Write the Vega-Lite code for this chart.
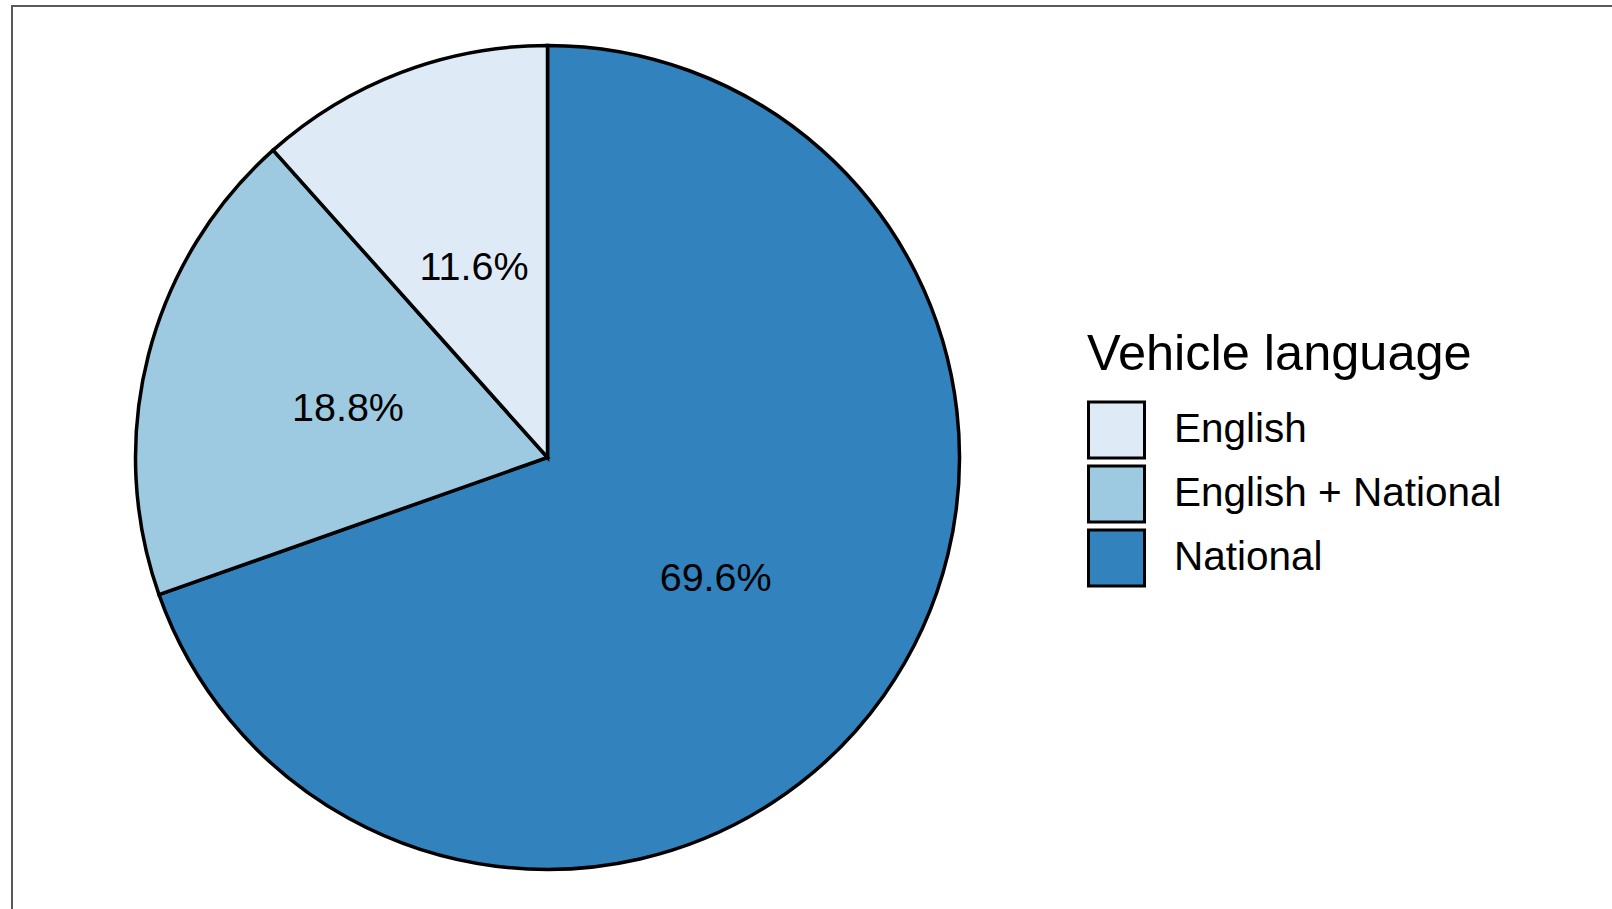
{
  "$schema": "https://vega.github.io/schema/vega-lite/v6.json",
  "width": 1610,
  "height": 913,
  "autosize": {"type": "none"},
  "padding": {"left": 12, "top": 6, "right": -10, "bottom": -10},
  "background": "white",
  "view": {"stroke": "#595959", "strokeWidth": 2},
  "config": {
    "view": {"stroke": "#595959", "strokeWidth": 2},
    "font": "Liberation Sans"
  },
  "data": {
    "values": [
      {"lang": "National", "pct": 69.6, "ord": 1, "label": "69.6%"},
      {"lang": "English + National", "pct": 18.8, "ord": 2, "label": "18.8%"},
      {"lang": "English", "pct": 11.6, "ord": 3, "label": "11.6%"}
    ]
  },
  "layer": [
    {
      "mark": {"type": "point", "opacity": 0},
      "encoding": {"x": {"field": "pct", "type": "quantitative", "axis": null}}
    },
    {
      "mark": {"type": "arc", "outerRadius": 412, "x": 535.5, "y": 451.5, "stroke": "black", "strokeWidth": 3.5},
      "encoding": {
        "theta": {"field": "pct", "type": "quantitative", "stack": true},
        "order": {"field": "ord", "type": "quantitative", "sort": "ascending"},
        "color": {
          "field": "lang",
          "type": "nominal",
          "scale": {"domain": ["English", "English + National", "National"], "range": ["#deebf7", "#9ecae1", "#3182bd"]},
          "legend": {
            "title": "Vehicle language",
            "orient": "none",
            "legendX": 1075,
            "legendY": 324,
            "titleFontSize": 50.5,
            "titleFontWeight": "normal",
            "titleColor": "black",
            "titleFont": "Liberation Sans",
            "titleLimit": 800,
            "titlePadding": 20,
            "labelFontSize": 40.5,
            "labelColor": "black",
            "labelFont": "Liberation Sans",
            "labelLimit": 800,
            "labelOffset": 28,
            "symbolType": "square",
            "symbolSize": 3136,
            "symbolStrokeColor": "black",
            "symbolStrokeWidth": 3,
            "symbolOpacity": 1,
            "rowPadding": -12
          }
        }
      }
    },
    {
      "mark": {"type": "text", "radius": 206, "x": 535.5, "y": 451.5, "dy": 3, "fontSize": 39.5, "font": "Liberation Sans", "color": "black"},
      "encoding": {
        "theta": {"field": "pct", "type": "quantitative", "stack": true},
        "order": {"field": "ord", "type": "quantitative", "sort": "ascending"},
        "text": {"field": "label", "type": "nominal"}
      }
    }
  ]
}
